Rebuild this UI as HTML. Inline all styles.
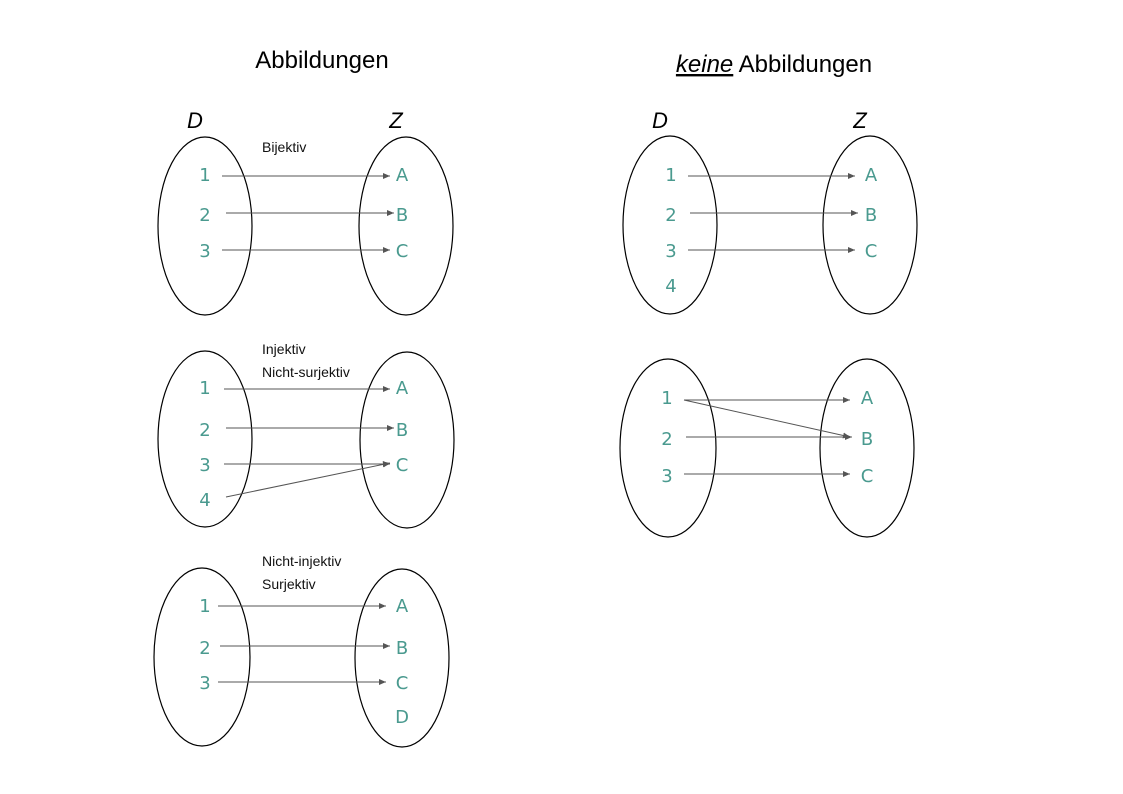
<!DOCTYPE html>
<html><head><meta charset="utf-8"><style>
html,body{margin:0;padding:0;background:#fff}
svg{display:block}
.t{font-family:"Liberation Sans",sans-serif;fill:#000}
.n{font-family:"DejaVu Sans","Liberation Sans",sans-serif;fill:#4a9a8f;font-size:18px}
.s{font-family:"Liberation Sans",sans-serif;font-size:14px;fill:#111}
ellipse{fill:none;stroke:#000;stroke-width:1.2}
line{stroke:#555;stroke-width:1}
</style></head><body>
<svg width="1123" height="794" viewBox="0 0 1123 794">
<defs><marker id="ah" markerWidth="8" markerHeight="8" refX="7" refY="3" orient="auto" markerUnits="userSpaceOnUse"><path d="M0,0 L7,3 L0,6 z" fill="#555"/></marker></defs>
<text class="t" x="322" y="68" font-size="24" text-anchor="middle">Abbildungen</text>
<text class="t" x="774" y="72" font-size="24" text-anchor="middle"><tspan font-style="italic" text-decoration="underline">keine</tspan> Abbildungen</text>
<g id="g"></g>
</svg>
<script>
const diagrams=[
 {name:'bijektiv',L:[205,226,47,89],R:[406,226,47,89],labels:['Bijektiv'],lx:262,ly:152,
  dom:[['1',175],['2',215],['3',251]],dx:205,cod:[['A',175],['B',215],['C',251]],cx:402,
  arrows:[[222,176,390,176],[226,213,394,213],[222,250,390,250]],DZ:[195,396,128]},
 {name:'injektiv',L:[205,439,47,88],R:[407,440,47,88],labels:['Injektiv','Nicht-surjektiv'],lx:262,ly:354,
  dom:[['1',388],['2',430],['3',465],['4',500]],dx:205,cod:[['A',388],['B',430],['C',465]],cx:402,
  arrows:[[224,389,390,389],[226,428,394,428],[224,464,390,464],[226,497,390,463]]},
 {name:'surjektiv',L:[202,657,48,89],R:[402,658,47,89],labels:['Nicht-injektiv','Surjektiv'],lx:262,ly:566,
  dom:[['1',606],['2',648],['3',683]],dx:205,cod:[['A',606],['B',648],['C',683],['D',717]],cx:402,
  arrows:[[218,606,386,606],[220,646,390,646],[218,682,386,682]]},
 {name:'keine-1',L:[670,225,47,89],R:[870,225,47,89],labels:[],
  dom:[['1',175],['2',215],['3',251],['4',286]],dx:671,cod:[['A',175],['B',215],['C',251]],cx:871,
  arrows:[[688,176,855,176],[690,213,858,213],[688,250,855,250]],DZ:[660,860,128]},
 {name:'keine-2',L:[668,448,48,89],R:[867,448,47,89],labels:[],
  dom:[['1',398],['2',439],['3',476]],dx:667,cod:[['A',398],['B',439],['C',476]],cx:867,
  arrows:[[684,400,850,400],[684,400,850,437],[686,437,852,437],[684,474,850,474]]}
];
const g=document.getElementById('g');const NS='http://www.w3.org/2000/svg';
function mk(t,a,txt){const e=document.createElementNS(NS,t);for(const k in a)e.setAttribute(k,a[k]);if(txt!==undefined)e.textContent=txt;g.appendChild(e);return e;}
diagrams.forEach(d=>{
 let e=mk('ellipse',{cx:d.L[0],cy:d.L[1],rx:d.L[2],ry:d.L[3]});
 
 
 e=mk('ellipse',{cx:d.R[0],cy:d.R[1],rx:d.R[2],ry:d.R[3]});
 
 
 d.labels.forEach((s,i)=>{e=mk('text',{class:'s',x:d.lx,y:d.ly+i*23},s);
  
  });
 d.dom.forEach(p=>{e=mk('text',{class:'n',x:d.dx,y:p[1]+6,'text-anchor':'middle'},p[0]);
  
  });
 d.cod.forEach(p=>{e=mk('text',{class:'n',x:d.cx,y:p[1]+6,'text-anchor':'middle'},p[0]);
  
  });
 d.arrows.forEach(a=>{e=mk('line',{x1:a[0],y1:a[1],x2:a[2],y2:a[3],'marker-end':'url(#ah)'});
  
  });
 if(d.DZ){
  e=mk('text',{class:'t',x:d.DZ[0],y:d.DZ[2],'font-size':22,'font-style':'italic','text-anchor':'middle'},'D');
  
  
  e=mk('text',{class:'t',x:d.DZ[1],y:d.DZ[2],'font-size':22,'font-style':'italic','text-anchor':'middle'},'Z');
  
  
 }
});
</script>
</body></html>
